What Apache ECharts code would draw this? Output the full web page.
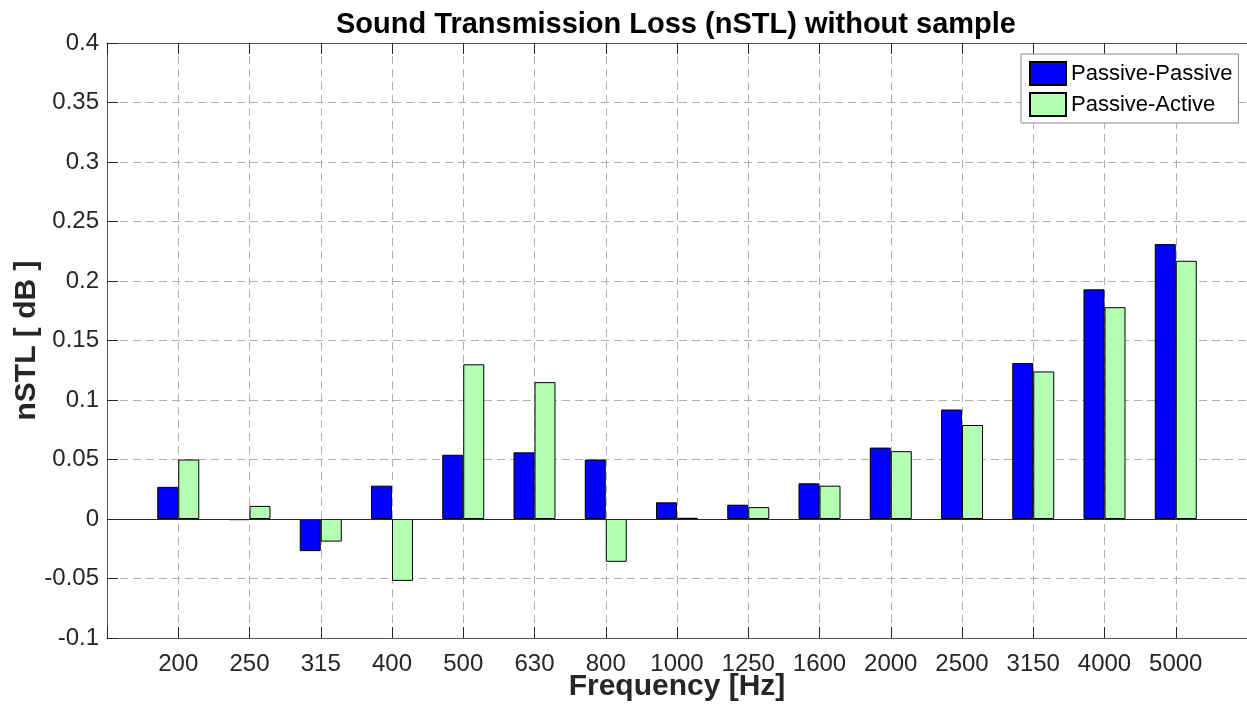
<!DOCTYPE html>
<html>
<head>
<meta charset="utf-8">
<title>Sound Transmission Loss (nSTL) without sample</title>
<script src="https://cdn.jsdelivr.net/npm/echarts@6/dist/echarts.min.js"></script>
<style>
  html, body { margin: 0; padding: 0; background: #ffffff; }
  #chart { width: 1247px; height: 713px; }
</style>
</head>
<body>
<div id="chart"></div>
<script>
// One-third-octave band centre frequencies
var categories = ['200', '250', '315', '400', '500', '630', '800', '1000', '1250', '1600', '2000', '2500', '3150', '4000', '5000'];

// Normalised STL per band [dB]
var passivePassive = [0.027, -0.001, -0.027, 0.028, 0.054, 0.056, 0.050, 0.014, 0.012, 0.030, 0.060, 0.092, 0.131, 0.193, 0.231];
var passiveActive  = [0.050, 0.011, -0.019, -0.052, 0.130, 0.115, -0.036, 0.001, 0.010, 0.028, 0.057, 0.079, 0.124, 0.178, 0.217];

var yTicks = { min: -0.1, max: 0.4, step: 0.05 };

var FONT = '"Liberation Sans", Arial, Helvetica, sans-serif';
var AXIS_COLOR = '#262626';

// bars sit at band positions 1..N on a 0..N+1 axis
function toPoints(values) {
  return values.map(function (v, i) { return [i + 1, v]; });
}

var chart = echarts.init(document.getElementById('chart'), null, { renderer: 'canvas' });

var gridLine = { show: true, lineStyle: { color: '#b0b0b0', width: 1, type: [8, 5] } };
var tickStyle = { show: true, inside: true, length: 11, lineStyle: { color: AXIS_COLOR, width: 1 } };

chart.setOption({
  backgroundColor: '#ffffff',
  animation: false,
  title: {
    text: 'Sound Transmission Loss (nSTL) without sample',
    left: 671,
    top: 5,
    textAlign: 'center',
    textStyle: { fontFamily: FONT, fontSize: 29, fontWeight: 'bold', color: '#000000' }
  },
  legend: {
    orient: 'vertical',
    left: 1021,
    top: 54,
    padding: [7, 6, 6, 8],
    itemWidth: 36,
    itemHeight: 23,
    itemGap: 6,
    backgroundColor: '#ffffff',
    borderColor: '#8a8a8a',
    borderWidth: 1,
    icon: 'rect',
    textStyle: { fontFamily: FONT, fontSize: 22, color: '#000000' },
    data: ['Passive-Passive', 'Passive-Active']
  },
  grid: { left: 107, right: 0, top: 43, bottom: 75, containLabel: false, outerBoundsMode: 'none' },
  xAxis: [
    {
      type: 'value',
      position: 'bottom',
      min: 0,
      max: categories.length + 1,
      interval: 1,
      name: 'Frequency [Hz]',
      nameLocation: 'middle',
      nameGap: 34,
      nameMoveOverlap: false,
      nameTextStyle: { fontFamily: FONT, fontSize: 30, fontWeight: 'bold', color: AXIS_COLOR },
      axisLine: { show: true, onZero: false, lineStyle: { color: '#555555', width: 1 } },
      axisTick: tickStyle,
      axisLabel: {
        fontFamily: FONT, fontSize: 24, color: AXIS_COLOR, margin: 14,
        formatter: function (v) { return categories[v - 1] || ''; }
      },
      splitLine: gridLine
    },
    {
      type: 'value',
      position: 'top',
      min: 0,
      max: categories.length + 1,
      interval: 1,
      axisLine: { show: true, onZero: false, lineStyle: { color: '#555555', width: 1 } },
      axisTick: tickStyle,
      axisLabel: { show: false },
      splitLine: { show: false }
    }
  ],
  yAxis: {
    type: 'value',
    min: yTicks.min,
    max: yTicks.max,
    interval: yTicks.step,
    name: 'nSTL [ dB ]',
    nameLocation: 'middle',
    nameRotate: 90,
    nameGap: 65,
    nameMoveOverlap: false,
    nameTextStyle: { fontFamily: FONT, fontSize: 30, fontWeight: 'bold', color: AXIS_COLOR },
    axisLine: { show: true, onZero: false, lineStyle: { color: '#555555', width: 1 } },
    axisTick: tickStyle,
    axisLabel: {
      fontFamily: FONT, fontSize: 24, color: AXIS_COLOR, margin: 8,
      formatter: function (v) { return String(Math.round(v * 100) / 100); }
    },
    splitLine: gridLine
  },
  series: [
    {
      name: 'Passive-Passive',
      type: 'bar',
      xAxisIndex: 0,
      barWidth: 21,
      barGap: '0%',
      itemStyle: { color: '#0000ff', borderColor: '#000000', borderWidth: 1 },
      data: toPoints(passivePassive),
      markLine: {
        silent: true,
        symbol: 'none',
        label: { show: false },
        lineStyle: { color: AXIS_COLOR, width: 1, type: 'solid' },
        data: [{ yAxis: 0 }]
      },
      z: 3
    },
    {
      name: 'Passive-Active',
      type: 'bar',
      xAxisIndex: 0,
      barWidth: 21,
      barGap: '0%',
      itemStyle: { color: '#b3ffb3', borderColor: '#000000', borderWidth: 1 },
      data: toPoints(passiveActive),
      z: 3
    }
  ]
});
</script>
</body>
</html>
